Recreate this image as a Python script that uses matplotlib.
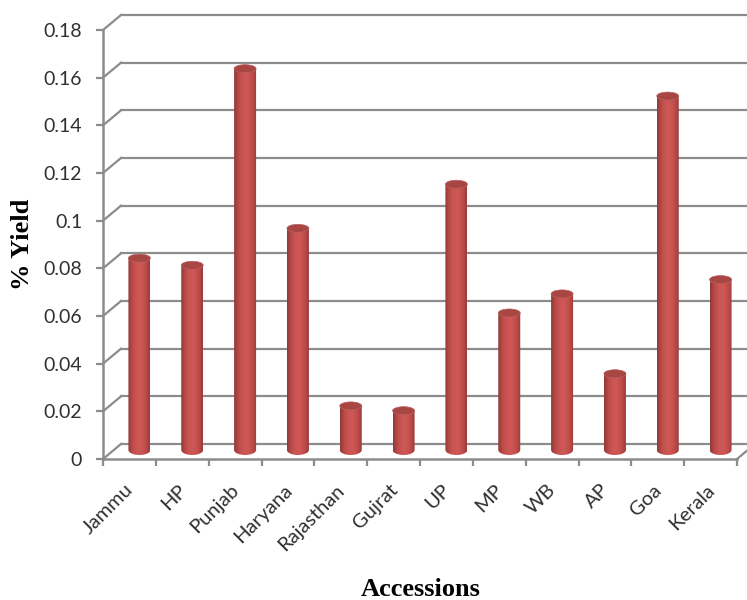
import numpy as np
import matplotlib.pyplot as plt
from matplotlib.colors import LinearSegmentedColormap
from matplotlib.patches import Ellipse, PathPatch
from matplotlib.path import Path

accessions = ["Jammu", "HP", "Punjab", "Haryana", "Rajasthan", "Gujrat",
              "UP", "MP", "WB", "AP", "Goa", "Kerala"]
yields = [0.0805, 0.0775, 0.160, 0.093, 0.0185, 0.0165,
          0.1115, 0.0575, 0.0655, 0.032, 0.1485, 0.0715]
y_ticks = [0, 0.02, 0.04, 0.06, 0.08, 0.1, 0.12, 0.14, 0.16, 0.18]
y_labels = ["0", "0.02", "0.04", "0.06", "0.08", "0.1", "0.12", "0.14", "0.16", "0.18"]

W, H = 747, 600
left, right, bottom, top = 103, 737, 459, 30
grid_color = "#8c8c8c"
text_color = "#303030"

fig = plt.figure(figsize=(W / 100, H / 100), dpi=100)
ax = fig.add_axes([left / W, 1 - bottom / H, (right - left) / W, (bottom - top) / H])
ax.set_xlim(0, len(accessions))
ax.set_ylim(0, 0.18)

# size of one pixel in data units, used for the fake 3D depth
px_x = len(accessions) / (right - left)
px_y = 0.18 / (bottom - top)
depth_x, depth_y = 18 * px_x, 15 * px_y

# back wall gridlines and the diagonals running to them
for t in y_ticks:
    ax.plot([0, depth_x], [t, t + depth_y], color=grid_color, lw=1.6, clip_on=False, zorder=1)
    ax.plot([depth_x, len(accessions) + 1], [t + depth_y, t + depth_y],
            color=grid_color, lw=1.6, clip_on=False, zorder=1)
ax.plot([len(accessions), len(accessions) + depth_x], [0, depth_y],
        color=grid_color, lw=1.6, clip_on=False, zorder=1)

# cylinders: horizontal shading clipped to the body outline
shade = LinearSegmentedColormap.from_list(
    "cyl", ["#8f3a38", "#bb4b49", "#cc5654", "#cd5856", "#c04d4b", "#9c3b39"])
gradient = np.linspace(0, 1, 64).reshape(1, -1)
half_w = 11 * px_x
top_h = 4 * px_y
foot_h = 5 * px_y
base = 9 * px_y
kappa = 0.5523

for i, v in enumerate(yields):
    cx = i + 0.5 + 10 * px_x
    y0 = base
    y1 = base + v
    x0, x1 = cx - half_w, cx + half_w
    verts = [(x0, y1), (x0, y0),
             (x0, y0 - kappa * foot_h), (cx - kappa * half_w, y0 - foot_h), (cx, y0 - foot_h),
             (cx + kappa * half_w, y0 - foot_h), (x1, y0 - kappa * foot_h), (x1, y0),
             (x1, y1), (x0, y1)]
    codes = [Path.MOVETO, Path.LINETO, Path.CURVE4, Path.CURVE4, Path.CURVE4,
             Path.CURVE4, Path.CURVE4, Path.CURVE4, Path.LINETO, Path.CLOSEPOLY]
    body = PathPatch(Path(verts, codes), facecolor="none", edgecolor="none", zorder=3)
    ax.add_patch(body)
    im = ax.imshow(gradient, cmap=shade, extent=[x0, x1, y0 - foot_h, y1],
                   aspect="auto", interpolation="bilinear", zorder=3)
    im.set_clip_path(body)
    ax.add_patch(Ellipse((cx, y1), 2 * half_w, 2 * top_h, facecolor="#a84644",
                         edgecolor="#b8605e", lw=0.5, zorder=4))

ax.set_xlim(0, len(accessions))
ax.set_ylim(0, 0.18)

for side in ["top", "right"]:
    ax.spines[side].set_visible(False)
for side in ["left", "bottom"]:
    ax.spines[side].set_color(grid_color)
    ax.spines[side].set_linewidth(1.8)
    ax.spines[side].set_zorder(5)

ax.set_yticks(y_ticks)
ax.set_yticklabels(y_labels, fontfamily="Lato", fontsize=14, color=text_color)
ax.set_xticks(np.arange(len(accessions) + 1))
ax.set_xticklabels([])
ax.tick_params(axis="both", length=5, width=1.6, color=grid_color)
ax.tick_params(axis="y", pad=10)

# category names sit between the tick marks
for i, name in enumerate(accessions):
    ax.annotate(name, xy=(i + 0.5, 0), xytext=(-3.5, -16), textcoords="offset points",
                rotation=45, rotation_mode="anchor", ha="right", va="top",
                fontfamily="Lato", fontsize=14.5, color=text_color)

fig.text(23 / W, 1 - 244 / H, "% Yield", rotation=90, ha="center", va="center",
         fontfamily="Liberation Serif", fontweight="bold", fontsize=19, color="black")
fig.text(420.5 / W, 1 - 589 / H, "Accessions", ha="center", va="center",
         fontfamily="Liberation Serif", fontweight="bold", fontsize=19, color="black")

fig.savefig("out.png", dpi=100)
